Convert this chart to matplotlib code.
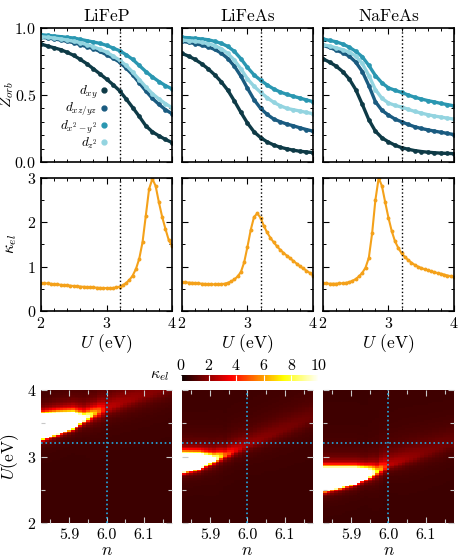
import numpy as np
import matplotlib
matplotlib.use('Agg')
import matplotlib.pyplot as plt
from matplotlib.lines import Line2D
from matplotlib.ticker import MultipleLocator

plt.rcParams['font.family'] = 'cmr10'
plt.rcParams['mathtext.fontset'] = 'cm'
plt.rcParams['axes.unicode_minus'] = False
plt.rcParams['axes.formatter.use_mathtext'] = True

materials = ['LiFeP', 'LiFeAs', 'NaFeAs']
orbitals = [r'$d_{xy}$', r'$d_{xz/yz}$', r'$d_{x^2-y^2}$', r'$d_{z^2}$']
orb_colors = ['#0e3a46', '#1a5b80', '#2a97b1', '#93d4e0']
kappa_color = '#f4a11a'
U_dft = 3.2

# orbital quasiparticle weights, U = 2.0 ... 4.0 step 0.1
u_z = np.linspace(2, 4, 21)
z_lifep = [
    [.88, .865, .852, .838, .818, .795, .765, .733, .695, .657, .618, .577, .531, .47, .406, .34, .27, .225, .195, .168, .145],
    [.93, .925, .918, .91, .90, .89, .875, .86, .845, .825, .80, .775, .745, .70, .65, .59, .53, .475, .43, .39, .36],
    [.95, .945, .94, .935, .93, .925, .915, .905, .895, .885, .87, .85, .83, .80, .765, .72, .675, .635, .60, .57, .545],
    [.935, .93, .925, .918, .91, .90, .89, .875, .86, .84, .82, .79, .76, .72, .67, .615, .56, .51, .47, .435, .405],
]
z_lifeas = [
    [.81, .79, .765, .733, .695, .65, .598, .535, .455, .37, .29, .225, .182, .15, .127, .11, .098, .088, .08, .075, .07],
    [.90, .893, .883, .872, .858, .84, .812, .772, .715, .64, .55, .465, .40, .355, .32, .30, .283, .27, .255, .242, .23],
    [.93, .927, .923, .918, .912, .90, .885, .862, .825, .77, .705, .65, .61, .575, .545, .522, .505, .49, .477, .463, .45],
    [.91, .905, .90, .893, .883, .868, .845, .81, .76, .695, .62, .565, .52, .48, .445, .42, .40, .39, .38, .37, .36],
]
z_nafeas = [
    [.77, .745, .715, .675, .62, .54, .43, .315, .23, .18, .15, .125, .107, .095, .085, .078, .073, .069, .066, .064, .062],
    [.87, .855, .835, .815, .79, .745, .675, .57, .45, .385, .35, .32, .30, .28, .263, .25, .24, .23, .222, .213, .205],
    [.918, .907, .897, .88, .857, .825, .785, .72, .645, .59, .553, .535, .519, .50, .483, .47, .458, .448, .437, .428, .419],
    [.875, .865, .852, .838, .82, .79, .735, .645, .54, .475, .44, .422, .41, .393, .377, .365, .353, .343, .335, .327, .32],
]

# electronic compressibility, U = 2.00 ... 4.00 step 0.05
u_k = np.linspace(2, 4, 41)
k_lifep = [.63, .625, .62, .612, .605, .598, .59, .583, .576, .57,
           .563, .557, .55, .545, .54, .535, .53, .525, .52, .517,
           .515, .515, .52, .53, .55, .58, .63, .70, .80, .95,
           1.18, 1.55, 2.15, 2.75, 2.98, 2.82, 2.45, 2.12, 1.85, 1.6, 1.47]
k_lifeas = [.65, .645, .64, .635, .63, .62, .615, .61, .605, .60,
            .60, .60, .605, .615, .635, .665, .71, .78, .88, 1.1,
            1.45, 1.83, 2.12, 2.2, 2.1, 1.92, 1.77, 1.65, 1.55, 1.46,
            1.38, 1.31, 1.25, 1.19, 1.13, 1.07, 1.01, .96, .91, .86, .80]
k_nafeas = [.62, .62, .615, .615, .615, .62, .625, .635, .65, .68,
            .72, .78, .86, .98, 1.2, 1.75, 2.5, 3.0, 2.82, 2.45,
            2.1, 1.8, 1.57, 1.42, 1.3, 1.22, 1.15, 1.09, 1.04, 1.0,
            .97, .94, .92, .895, .875, .855, .84, .82, .80, .785, .77]

# kappa(n, U) maps: ridge read column by column
ridge_n = [5.83, 5.87, 5.91, 5.94, 5.97, 6.00, 6.05, 6.10, 6.17]
ridge_U = [[3.45, 3.49, 3.53, 3.57, 3.65, 3.72, 3.82, 3.92, 4.05],
           [2.90, 2.92, 2.96, 3.02, 3.09, 3.17, 3.29, 3.41, 3.58],
           [2.645, 2.67, 2.70, 2.73, 2.77, 2.86, 2.96, 3.06, 3.20]]
ridge_half = [[.17, .14, .10, .02, 0, 0, 0, 0, 0],
              [.125, .10, .02, 0, 0, 0, 0, 0, 0],
              [.155, .13, .10, .06, 0, 0, 0, 0, 0]]
ridge_amp = [[12, 12, 12, 10, 6, 2.0, 1.5, 1.2, 0.9],
             [12, 12, 10, 4.5, 2.5, 1.4, 1.1, 0.9, 0.7],
             [13, 13, 13, 12, 7, 2.0, 1.4, 1.0, 0.7]]
ridge_wlo = [[.02, .02, .02, .03, .05, .08, .10, .12, .14],
             [.02, .02, .03, .04, .05, .07, .09, .11, .13],
             [.02, .02, .02, .02, .04, .05, .08, .10, .12]]
ridge_whi = [[.04, .05, .06, .07, .09, .15, .20, .22, .25],
             [.05, .05, .06, .08, .12, .15, .18, .20, .22],
             [.05, .05, .05, .05, .08, .15, .18, .20, .22]]
kappa_bg = [0.75, 0.75, 0.75]

n_cells = np.linspace(5.83, 6.17, 35)
u_cells = np.linspace(2.0125, 3.9875, 80)


def kappa_map(i):
    nn, uu = np.meshgrid(n_cells, u_cells)
    c = np.interp(nn, ridge_n, ridge_U[i])
    h = np.interp(nn, ridge_n, ridge_half[i])
    a = np.interp(nn, ridge_n, ridge_amp[i])
    wl = np.interp(nn, ridge_n, ridge_wlo[i])
    wh = np.interp(nn, ridge_n, ridge_whi[i])
    d = uu - c
    dist = np.maximum(np.abs(d) - h, 0)
    w = np.where(d < 0, wl, wh)
    return kappa_bg[i] + a / (1 + (dist / w) ** 2)


fig = plt.figure(figsize=(4.64, 5.57), dpi=100)
lefts = [0.0884, 0.3922, 0.6961]
width = 0.2823

z_all = [z_lifep, z_lifeas, z_nafeas]
k_all = [k_lifep, k_lifeas, k_nafeas]


def style(ax):
    ax.tick_params(which='both', direction='in', top=True, right=True, labelsize=11.5)
    ax.tick_params(which='major', length=4, width=0.8)
    ax.tick_params(which='minor', length=2.2, width=0.7)
    for s in ax.spines.values():
        s.set_linewidth(1.2)


for i in range(3):
    # Z_orb
    ax = fig.add_axes([lefts[i], 0.7092, width, 0.2406])
    for j in range(4):
        ax.plot(u_z, z_all[i][j], '-o', color=orb_colors[j], lw=2.4, ms=3.4, mew=0)
    ax.axvline(U_dft, color='k', ls=':', lw=1)
    ax.set_xlim(2, 4)
    ax.set_ylim(0, 1)
    ax.xaxis.set_major_locator(MultipleLocator(1))
    ax.xaxis.set_minor_locator(MultipleLocator(0.2))
    ax.yaxis.set_major_locator(MultipleLocator(0.5))
    ax.yaxis.set_minor_locator(MultipleLocator(0.1))
    style(ax)
    ax.set_xticklabels([])
    ax.set_title(materials[i], fontsize=12.5, pad=5)
    if i == 0:
        ax.set_ylabel(r'$Z_{orb}$', fontsize=11)
        ax.yaxis.set_label_coords(-0.19, 0.5)
        handles = [Line2D([], [], color=c, marker='o', ls='none', ms=3.5) for c in orb_colors]
        ax.legend(handles, orbitals, loc='upper right', bbox_to_anchor=(0.56, 0.63),
                  frameon=False, markerfirst=False, handlelength=0.5, handletextpad=0.3,
                  labelspacing=0.0, borderpad=0, fontsize=9.5)
    else:
        ax.set_yticklabels([])

    # kappa_el
    ax = fig.add_axes([lefts[i], 0.4417, width, 0.2388])
    ax.plot(u_k, k_all[i], '-o', color=kappa_color, lw=1.5, ms=2.8, mew=0)
    ax.axvline(U_dft, color='k', ls=':', lw=1)
    ax.set_xlim(2, 4)
    ax.set_ylim(0, 3)
    ax.xaxis.set_major_locator(MultipleLocator(1))
    ax.xaxis.set_minor_locator(MultipleLocator(0.2))
    ax.yaxis.set_major_locator(MultipleLocator(1))
    ax.yaxis.set_minor_locator(MultipleLocator(0.5))
    style(ax)
    ax.set_xlabel(r'$U$ (eV)', fontsize=12.5, labelpad=1)
    if i == 0:
        ax.set_ylabel(r'$\kappa_{el}$', fontsize=12)
        ax.yaxis.set_label_coords(-0.165, 0.5)
    else:
        ax.set_yticklabels([])

    # kappa map
    ax = fig.add_axes([lefts[i], 0.061, width, 0.2388])
    mesh = ax.pcolormesh(n_cells, u_cells, kappa_map(i), cmap='hot', vmin=0, vmax=10,
                         shading='nearest')
    ax.axvline(6.0, color='#22aee6', ls=':', lw=1.2)
    ax.axhline(U_dft, color='#22aee6', ls=':', lw=1.2)
    ax.set_xlim(5.825, 6.175)
    ax.set_ylim(2, 4)
    ax.set_xticks([5.9, 6.0, 6.1])
    ax.set_xticklabels(['5.9', '6.0', '6.1'])
    ax.xaxis.set_minor_locator(MultipleLocator(0.05))
    ax.yaxis.set_major_locator(MultipleLocator(1))
    ax.yaxis.set_minor_locator(MultipleLocator(0.5))
    ax.tick_params(which='both', direction='in', top=True, right=True, labelsize=11.5,
                   color='#c8c8c8')
    ax.tick_params(which='major', length=4, width=0.8)
    ax.tick_params(which='minor', length=3, width=0.8)
    for s in ax.spines.values():
        s.set_visible(False)
    ax.set_xlabel(r'$n$', fontsize=12.5, labelpad=1)
    if i == 0:
        ax.set_ylabel(r'$U$(eV)', fontsize=12.5)
        ax.yaxis.set_label_coords(-0.15, 0.5)
    else:
        ax.set_yticklabels([])

cax = fig.add_axes([0.390, 0.316, 0.297, 0.010])
cb = fig.colorbar(mesh, cax=cax, orientation='horizontal', ticks=[0, 2, 4, 6, 8, 10])
cb.outline.set_visible(False)
cax.xaxis.set_ticks_position('top')
cax.tick_params(direction='in', length=6, width=0.8, color='white', labelsize=11.5, pad=2)
fig.text(0.345, 0.325, r'$\kappa_{el}$', fontsize=11.5, ha='center', va='center')

fig.savefig('out.png', dpi=100)
